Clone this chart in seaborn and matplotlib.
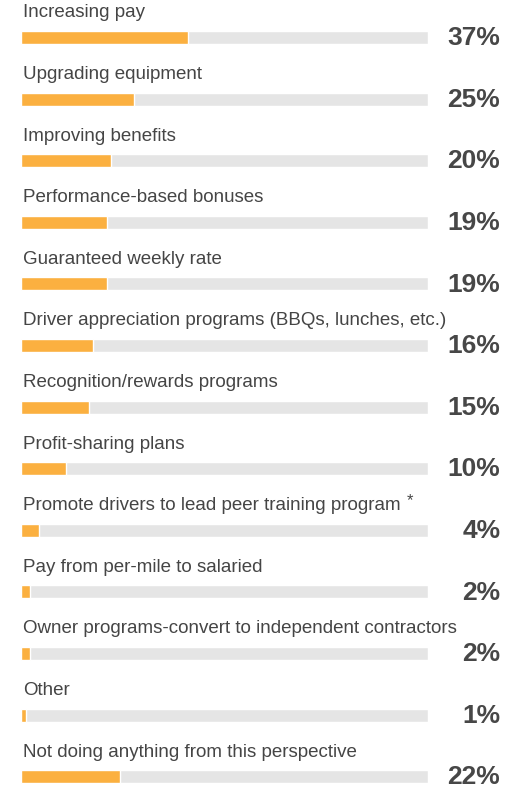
import numpy as np
import pandas as pd
import matplotlib
matplotlib.use("Agg")
import matplotlib.pyplot as plt
import seaborn as sns

# data
labels = [
    "Increasing pay",
    "Upgrading equipment",
    "Improving benefits",
    "Performance-based bonuses",
    "Guaranteed weekly rate",
    "Driver appreciation programs (BBQs, lunches, etc.)",
    "Recognition/rewards programs",
    "Profit-sharing plans",
    "Promote drivers to lead peer training program",
    "Pay from per-mile to salaried",
    "Owner programs-convert to independent contractors",
    "Other",
    "Not doing anything from this perspective",
]
values = [37, 25, 20, 19, 19, 16, 15, 10, 4, 2, 2, 1, 22]
footnote_rows = ["Promote drivers to lead peer training program"]
track_max = 90

df = pd.DataFrame({"label": labels, "value": values})
df["track"] = track_max

sns.set_theme(style="white")
plt.rcParams["font.family"] = ["Liberation Sans", "DejaVu Sans"]

W, H = 521, 788
fig = plt.figure(figsize=(W / 100, H / 100), dpi=100)
ax = fig.add_axes([21 / W, 0, 407 / W, 1])

bar_w = 0.21
sns.barplot(data=df, x="track", y="label", color="#e5e5e5", width=bar_w,
            orient="h", ax=ax, saturation=1)
sns.barplot(data=df, x="value", y="label", color="#fbb040", width=bar_w,
            orient="h", ax=ax, saturation=1)

ax.set_xlim(0, track_max)
pitch = 61.6
ax.set_ylim((H - 37.5) / pitch, -37.5 / pitch)
ax.axis("off")

for i, (lab, v) in enumerate(zip(labels, values)):
    t = ax.text(0.5, i - 0.4, lab, ha="left", va="center", fontsize=13.5,
                color="#454545", clip_on=False)
    if lab in footnote_rows:
        ax.annotate("*", xy=(1, 1), xycoords=t, xytext=(4, 3),
                    textcoords="offset points", ha="left", va="top",
                    fontsize=12, color="#454545")
    ax.text(106, i + 0.01, f"{v}%", ha="right", va="center", fontsize=19,
            fontweight="bold", color="#474747", clip_on=False)

fig.savefig("out.png", dpi=100)
